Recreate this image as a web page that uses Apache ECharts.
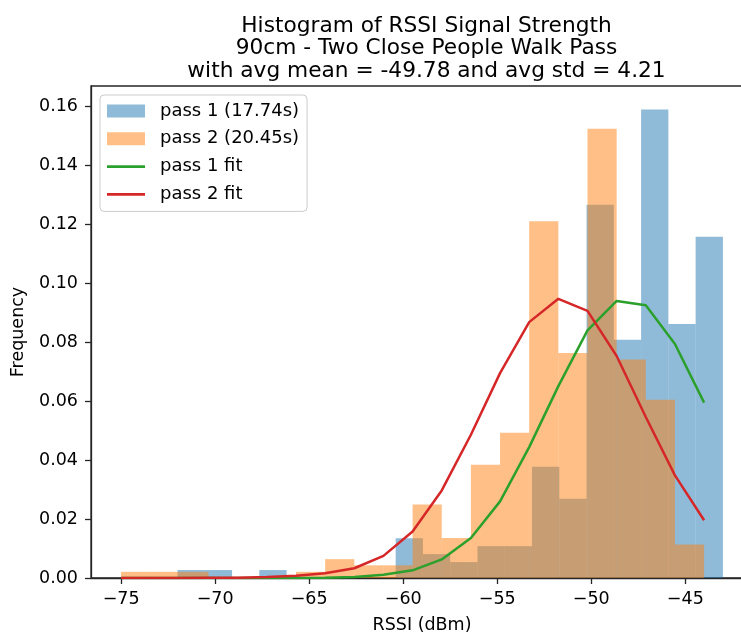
<!DOCTYPE html>
<html>
<head>
<meta charset="utf-8">
<script src="https://cdn.jsdelivr.net/npm/echarts@6/dist/echarts.min.js"></script>
<style>
  html, body { margin: 0; padding: 0; background: #ffffff; }
  #chart { width: 741px; height: 635px; }
</style>
</head>
<body>
<div id="chart"></div>
<script>
// ---- data ----
const titleLines = [
  'Histogram of RSSI Signal Strength',
  '90cm - Two Close People Walk Pass',
  'with avg mean = -49.78 and avg std = 4.21'
];
const seriesNames = ['pass 1 (17.74s)', 'pass 2 (20.45s)', 'pass 1 fit', 'pass 2 fit'];

// pass 1 histogram bin edges (dBm) and densities
const pass1Edges = [-72, -70.55, -69.1, -67.65, -66.2, -64.75, -63.3, -61.85, -60.4, -58.95, -57.5,
                    -56.05, -54.6, -53.15, -51.7, -50.25, -48.8, -47.35, -45.9, -44.45, -43];
const pass1Density = [0.0027, 0.0027, 0, 0.0027, 0, 0, 0, 0, 0.0135, 0.0081,
                      0.0054, 0.0108, 0.0108, 0.0377, 0.0269, 0.1266, 0.0808, 0.1589, 0.0862, 0.1158];

// pass 2 histogram bin edges (dBm) and densities
const pass2Edges = [-75, -73.45, -71.9, -70.35, -68.8, -67.25, -65.7, -64.15, -62.6, -61.05, -59.5,
                    -57.95, -56.4, -54.85, -53.3, -51.75, -50.2, -48.65, -47.1, -45.55, -44];
const pass2Density = [0.0021, 0.0021, 0.0021, 0, 0, 0, 0.0021, 0.0064, 0.0043, 0.0043,
                      0.0249, 0.0136, 0.0384, 0.0493, 0.1210, 0.0763, 0.1524, 0.0741, 0.0605, 0.0114];

// fitted curves, sampled at the pass 2 bin edges
const fitX = pass2Edges;
const fit1Values = [0, 0, 0, 0, 0, 0, 0.00002, 0.0001, 0.0003, 0.0011, 0.0026,
                    0.0063, 0.0136, 0.0260, 0.0444, 0.0651, 0.0840, 0.0940, 0.0925, 0.0794, 0.0595];
const fit2Values = [0, 0, 0, 0.0001, 0.0001, 0.0003, 0.0008, 0.0016, 0.0033, 0.0075, 0.0158,
                    0.0297, 0.0486, 0.0695, 0.0868, 0.0947, 0.0906, 0.0753, 0.0546, 0.0348, 0.0196];

// tick labels
const xTicks = [-75, -70, -65, -60, -55, -50, -45];
const yTicks = [0, 0.02, 0.04, 0.06, 0.08, 0.10, 0.12, 0.14, 0.16];

// ---- build ----
function binsOf(edges, dens) {
  const out = [];
  for (let i = 0; i < dens.length; i++) out.push([edges[i], edges[i + 1], dens[i]]);
  return out;
}
function pairs(xs, ys) { return xs.map((x, i) => [x, ys[i]]); }

const FONT = 'DejaVu Sans';
const minusFmt = v => (v < 0 ? '\u2212' + Math.abs(v) : String(v));

function histSeries(name, data, color) {
  return {
    name: name,
    type: 'custom',
    data: data,
    encode: { x: [0, 1], y: 2 },
    itemStyle: { color: color },
    renderItem: function (params, api) {
      const x0 = api.value(0), x1 = api.value(1), y = api.value(2);
      if (!(y > 0)) return null;
      const pTop = api.coord([x0, y]);
      const pBot = api.coord([x1, 0]);
      return {
        type: 'rect',
        shape: { x: pTop[0], y: pTop[1], width: pBot[0] - pTop[0], height: pBot[1] - pTop[1] },
        style: { fill: color, opacity: 0.5 }
      };
    }
  };
}

const chart = echarts.init(document.getElementById('chart'), null, { renderer: 'canvas' });
chart.setOption({
  animation: false,
  backgroundColor: '#ffffff',
  title: {
    text: titleLines.join('\n'),
    left: 421.5,
    top: 9.5,
    textAlign: 'center',
    textStyle: { fontFamily: FONT, fontSize: 21.7, fontWeight: 'normal', color: '#000', lineHeight: 22.8 }
  },
  grid: {
    left: 91, top: 86, width: 662, height: 492,
    outerBoundsMode: 'none',
    containLabel: false,
    show: true, borderColor: '#262626', borderWidth: 1.3, backgroundColor: 'transparent'
  },
  legend: {
    orient: 'vertical',
    left: 100, top: 95,
    padding: [7, 8, 8, 7],
    itemGap: 9.8,
    itemWidth: 38, itemHeight: 13,
    symbolKeepAspect: true,
    backgroundColor: 'rgba(255,255,255,0.8)',
    borderColor: '#cccccc', borderWidth: 1, borderRadius: 4,
    textStyle: { fontFamily: FONT, fontSize: 18, color: '#000', lineHeight: 18, padding: [0, 0, 0, 10] },
    data: [
      { name: seriesNames[0], icon: 'rect', itemStyle: { color: '#8fbbd9', borderWidth: 0 } },
      { name: seriesNames[1], icon: 'rect', itemStyle: { color: '#ffbf86', borderWidth: 0 } },
      { name: seriesNames[2], icon: 'path://M0,0H38V2.6H0Z', itemStyle: { color: '#2ca02c', borderWidth: 0 } },
      { name: seriesNames[3], icon: 'path://M0,0H38V2.6H0Z', itemStyle: { color: '#d62728', borderWidth: 0 } }
    ]
  },
  xAxis: {
    type: 'value',
    min: -76.6, max: -41.4,
    name: 'RSSI (dBm)',
    nameLocation: 'middle',
    nameGap: 38,
    nameTextStyle: { fontFamily: FONT, fontSize: 17.5, color: '#000' },
    axisLine: { show: true, onZero: false, lineStyle: { color: '#262626', width: 1.3 } },
    axisTick: { show: true, length: 6, inside: false, customValues: xTicks, lineStyle: { color: '#262626', width: 1.3 } },
    axisLabel: { customValues: xTicks, margin: 12, fontFamily: FONT, fontSize: 17.5, color: '#000', formatter: minusFmt },
    splitLine: { show: false }
  },
  yAxis: {
    type: 'value',
    min: 0, max: 0.1669,
    name: 'Frequency',
    nameLocation: 'middle',
    nameGap: 64,
    nameRotate: 90,
    nameTextStyle: { fontFamily: FONT, fontSize: 17.5, color: '#000' },
    axisLine: { show: true, lineStyle: { color: '#262626', width: 1.3 } },
    axisTick: { show: true, length: 6, inside: false, customValues: yTicks, lineStyle: { color: '#262626', width: 1.3 } },
    axisLabel: { customValues: yTicks, margin: 13, fontFamily: FONT, fontSize: 17.5, color: '#000',
                 formatter: v => v.toFixed(2) },
    splitLine: { show: false }
  },
  series: [
    histSeries(seriesNames[0], binsOf(pass1Edges, pass1Density), '#1f77b4'),
    histSeries(seriesNames[1], binsOf(pass2Edges, pass2Density), '#ff7f0e'),
    {
      name: seriesNames[2], type: 'line', data: pairs(fitX, fit1Values),
      showSymbol: false, symbol: 'none', color: '#2ca02c',
      lineStyle: { color: '#2ca02c', width: 2.5 }
    },
    {
      name: seriesNames[3], type: 'line', data: pairs(fitX, fit2Values),
      showSymbol: false, symbol: 'none', color: '#d62728',
      lineStyle: { color: '#d62728', width: 2.5 }
    }
  ]
});
</script>
</body>
</html>
